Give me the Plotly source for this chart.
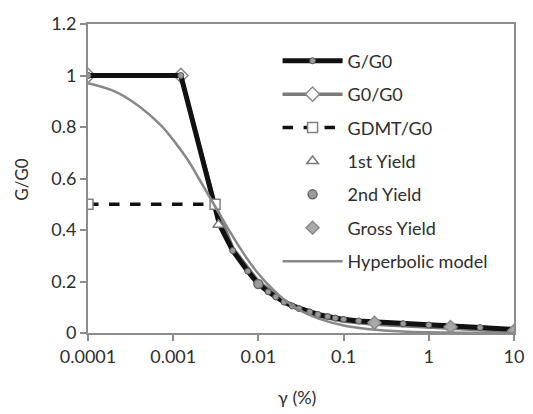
import plotly.graph_objects as go

# shear strain (%) and stiffness ratios
g_strain = [0.0001, 0.00123, 0.0035, 0.005, 0.0075, 0.01, 0.013, 0.016, 0.02, 0.025,
            0.03, 0.04, 0.05, 0.065, 0.08, 0.1, 0.15, 0.23, 0.5, 1.0, 1.8, 4.0, 10.0]
g_ratio = [1.0, 1.0, 0.42, 0.32, 0.24, 0.19, 0.16, 0.14, 0.12, 0.105,
           0.095, 0.082, 0.072, 0.064, 0.058, 0.053, 0.047, 0.043, 0.036, 0.031, 0.027, 0.021, 0.014]

g0_strain = [0.0001, 0.00123, 0.0031, 0.005, 0.01, 0.02, 0.05, 0.1, 0.23, 0.5, 1.0, 1.8, 4.0, 10.0]
g0_ratio = [1.0, 1.0, 0.5, 0.33, 0.2, 0.125, 0.066, 0.046, 0.034, 0.027, 0.022, 0.018, 0.013, 0.007]

gdmt_strain = [0.0001, 0.0031]
gdmt_ratio = [0.5, 0.5]

yield1_strain = [0.0034]
yield1_ratio = [0.42]

yield2_strain = [0.01]
yield2_ratio = [0.19]

gross_strain = [0.23, 1.8, 10.0]
gross_ratio = [0.04, 0.023, 0.008]

hyp_strain = [0.0001, 0.0002, 0.0004, 0.0007, 0.001, 0.0015, 0.002, 0.003, 0.005,
              0.0075, 0.01, 0.015, 0.02, 0.03, 0.05, 0.1, 0.2, 0.5, 1.0, 3.0, 10.0]
hyp_ratio = [0.97, 0.94, 0.88, 0.81, 0.75, 0.67, 0.60, 0.50, 0.375,
             0.285, 0.23, 0.167, 0.13, 0.09, 0.057, 0.029, 0.015, 0.006, 0.003, 0.001, 0.0003]

x_tickvals = [0.0001, 0.001, 0.01, 0.1, 1, 10]
x_ticktext = ["0.0001", "0.001", "0.01", "0.1", "1", "10"]

FONT = "Lato"
TEXT = "#2e2e2e"
CLEAR = "rgba(0,0,0,0)"
fig = go.Figure()

# G0/G0 drawn first so the thick G/G0 line sits on top of it;
# only the two plateau points carry a visible diamond
n_hidden = len(g0_strain) - 2
g0_fill = ["white", "white"] + [CLEAR] * n_hidden
g0_edge = ["#8a8a8a", "#8a8a8a"] + [CLEAR] * n_hidden
fig.add_trace(go.Scatter(
    x=g0_strain, y=g0_ratio, name="G0/G0", mode="lines+markers", legendgroup="b", legendrank=2,
    line=dict(color="#7a7a7a", width=3.5),
    marker=dict(symbol="diamond", size=11, color=g0_fill, line=dict(color=g0_edge, width=1.5))))

fig.add_trace(go.Scatter(
    x=g_strain, y=g_ratio, name="G/G0", mode="lines+markers", legendgroup="a", legendrank=1,
    line=dict(color="#111111", width=5),
    marker=dict(symbol="circle", size=6, color="#9a9a9a", line=dict(color="#555555", width=1))))

fig.add_trace(go.Scatter(
    x=gdmt_strain, y=gdmt_ratio, name="GDMT/G0", mode="lines+markers", legendgroup="c", legendrank=3,
    line=dict(color="#111111", width=3.5, dash="dash"),
    marker=dict(symbol="square", size=10, color="white", line=dict(color="#808080", width=1.5))))

fig.add_trace(go.Scatter(
    x=yield1_strain, y=yield1_ratio, name="1st Yield", mode="markers", legendgroup="d", legendrank=4,
    marker=dict(symbol="triangle-up", size=10, color="white", line=dict(color="#777777", width=1.5))))

fig.add_trace(go.Scatter(
    x=yield2_strain, y=yield2_ratio, name="2nd Yield", mode="markers", legendgroup="e", legendrank=5,
    marker=dict(symbol="circle", size=9, color="#9a9a9a", line=dict(color="#6a6a6a", width=1.5))))

fig.add_trace(go.Scatter(
    x=gross_strain, y=gross_ratio, name="Gross Yield", mode="markers", legendgroup="f", legendrank=6,
    marker=dict(symbol="diamond", size=10, color="#a8a8a8", line=dict(color="#8a8a8a", width=1.5))))

fig.add_trace(go.Scatter(
    x=hyp_strain, y=hyp_ratio, name="Hyperbolic model", mode="lines", legendgroup="g", legendrank=7,
    line=dict(color="#888888", width=2.5, shape="spline")))

axis_style = dict(
    showline=True, linecolor="#8c8c8c", linewidth=2, mirror=True,
    ticks="outside", tickcolor="#8c8c8c", ticklen=6, tickwidth=2,
    showgrid=False, zeroline=False, automargin=False,
    tickfont=dict(family=FONT, size=18, color=TEXT),
)

fig.update_xaxes(type="log", range=[-4, 1], tickvals=x_tickvals, ticktext=x_ticktext, **axis_style)
fig.update_yaxes(range=[0, 1.2], dtick=0.2, tickformat="~g", **axis_style)

# axis titles
fig.add_annotation(text="γ (%)", xref="paper", yref="paper", x=0.49, y=-0.207,
                   xanchor="center", yanchor="middle", showarrow=False,
                   font=dict(family=FONT, size=18, color=TEXT))
fig.add_annotation(text="G/G0", xref="paper", yref="paper", x=-0.158, y=0.495,
                   xanchor="center", yanchor="middle", showarrow=False, textangle=-90,
                   font=dict(family=FONT, size=17, color=TEXT))

fig.update_layout(
    width=533, height=414,
    margin=dict(l=88, r=19, t=24, b=81),
    paper_bgcolor="white", plot_bgcolor="white",
    font=dict(family=FONT, color=TEXT),
    legend=dict(
        x=0.445, y=0.94, xanchor="left", yanchor="top",
        traceorder="grouped", tracegroupgap=7, itemwidth=60,
        bgcolor="rgba(255,255,255,0)", borderwidth=0,
        font=dict(family=FONT, size=18, color=TEXT),
    ),
)

fig.write_html("out.html")
